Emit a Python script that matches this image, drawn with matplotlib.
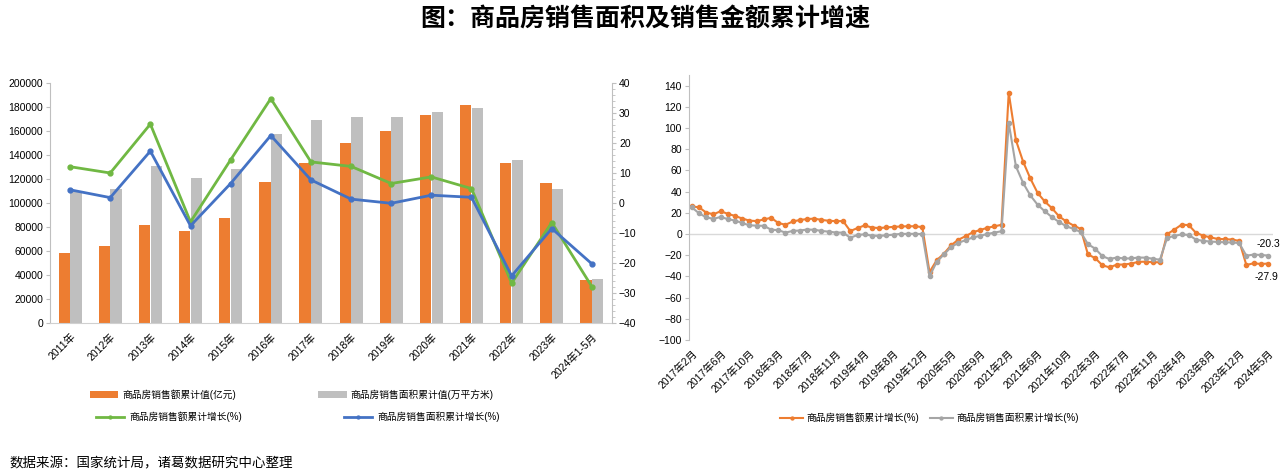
import numpy as np
import matplotlib
matplotlib.use('Agg')
import matplotlib.pyplot as plt
from matplotlib.ticker import MultipleLocator

plt.rcParams['font.family'] = ['Liberation Sans', 'Noto Sans CJK SC']
plt.rcParams['axes.unicode_minus'] = True

# 年度数据（左图）
years = ['2011年', '2012年', '2013年', '2014年', '2015年', '2016年', '2017年',
         '2018年', '2019年', '2020年', '2021年', '2022年', '2023年', '2024年1-5月']
sales_amount = [58589, 64456, 81428, 76292, 87281, 117627, 133701,
                149973, 159725, 173613, 181930, 133308, 116622, 35522]   # 亿元
sales_area = [109946, 111304, 130551, 120649, 128495, 157349, 169408,
              171654, 171558, 176086, 179433, 135837, 111735, 36642]     # 万平方米
amount_growth = [12.1, 10.0, 26.3, -6.3, 14.4, 34.8, 13.7,
                 12.2, 6.5, 8.7, 4.8, -26.7, -6.5, -27.9]
area_growth = [4.4, 1.8, 17.3, -7.6, 6.5, 22.5, 7.7,
               1.3, -0.1, 2.6, 1.9, -24.3, -8.5, -20.3]

# 月度累计增速（右图），每年从2月起
month_years = [2017, 2018, 2019, 2020, 2021, 2022, 2023, 2024]
last_month = {2024: 5}
amount_monthly = [
    26.1, 25.1, 20.2, 18.6, 21.5, 19.0, 17.0, 14.6, 12.6, 12.2, 13.7,
    15.3, 10.4, 8.7, 11.8, 13.2, 14.1, 14.5, 13.3, 12.5, 12.1, 12.2,
    2.8, 5.6, 8.1, 6.1, 5.6, 6.2, 6.7, 7.1, 7.3, 7.3, 6.5,
    -35.9, -24.7, -18.6, -10.6, -5.4, -2.1, 1.6, 3.7, 5.8, 7.2, 8.7,
    133.4, 88.5, 68.2, 52.4, 38.9, 30.7, 24.4, 16.6, 11.8, 8.0, 4.8,
    -19.3, -22.7, -29.5, -31.5, -28.9, -28.8, -27.9, -26.3, -26.1, -26.6, -26.7,
    -0.1, 4.1, 8.8, 8.4, 1.1, -1.5, -3.2, -4.6, -4.9, -5.2, -6.5,
    -29.3, -27.6, -28.3, -27.9]
area_monthly = [
    25.1, 19.5, 15.7, 14.3, 16.1, 14.0, 12.7, 10.3, 8.2, 7.9, 7.7,
    4.1, 3.6, 1.3, 2.9, 3.3, 4.2, 4.0, 2.9, 2.2, 1.4, 1.3,
    -3.6, -0.9, -0.3, -1.6, -1.8, -1.3, -0.6, 0.1, 0.1, 0.2, -0.1,
    -39.9, -26.3, -19.3, -12.3, -8.4, -5.8, -3.3, -1.8, 0.0, 1.3, 2.6,
    104.9, 63.8, 48.1, 36.4, 27.7, 21.5, 15.9, 11.3, 7.3, 4.8, 1.9,
    -9.6, -13.8, -20.9, -23.6, -22.2, -23.1, -23.0, -22.2, -22.3, -23.3, -24.3,
    -3.6, -1.8, -0.4, -0.9, -5.3, -6.5, -7.1, -7.5, -7.8, -8.0, -8.5,
    -20.5, -19.4, -19.8, -20.3]

month_labels = []
for y in month_years:
    for m in range(2, last_month.get(y, 12) + 1):
        month_labels.append(f'{y}年{m}月')

ORANGE = '#ED7D31'
GREY_BAR = '#BFBFBF'
GREY_LINE = '#A5A5A5'
GREEN = '#70B843'
BLUE = '#4472C4'
AXIS = '#BFBFBF'

W, H = 1287, 474
fig = plt.figure(figsize=(W / 100, H / 100), dpi=100)

fig.text(0.501, 1 - 20 / H, '图：商品房销售面积及销售金额累计增速', ha='center', va='center',
         fontsize=18, fontweight='semibold', family=['Noto Sans CJK SC'])
fig.text(10 / W, 1 - 463 / H, '数据来源：国家统计局，诸葛数据研究中心整理', va='center',
         fontsize=9.7, family=['Noto Sans CJK SC'])

# ---- 左图 ----
ax1 = fig.add_axes([50 / W, 1 - 323 / H, 562 / W, 240 / H])
ax2 = ax1.twinx()
x = np.arange(len(years))
b1 = ax1.bar(x - 0.145, sales_amount, 0.28, color=ORANGE, label='商品房销售额累计值(亿元)')
b2 = ax1.bar(x + 0.145, sales_area, 0.28, color=GREY_BAR, label='商品房销售面积累计值(万平方米)')
l1, = ax2.plot(x, amount_growth, color=GREEN, lw=2, marker='o', ms=3.5, label='商品房销售额累计增长(%)')
l2, = ax2.plot(x, area_growth, color=BLUE, lw=2, marker='o', ms=3.5, label='商品房销售面积累计增长(%)')

ax1.set_xlim(-0.5, len(years) - 0.5)
ax1.set_ylim(0, 200000)
ax1.yaxis.set_major_locator(MultipleLocator(20000))
ax2.set_ylim(-40, 40)
ax2.yaxis.set_major_locator(MultipleLocator(10))
ax2.yaxis.set_minor_locator(MultipleLocator(2))

ax1.set_xticks(x)
ax1.set_xticklabels(years, rotation=45, ha='right', rotation_mode='anchor', fontsize=7.5)
ax1.tick_params(axis='x', length=0, pad=6)
ax1.tick_params(axis='y', labelsize=7.5, length=3, color=AXIS, pad=2)
ax2.tick_params(axis='y', labelsize=7.5, length=3, color=AXIS, pad=2)
ax2.tick_params(axis='y', which='minor', length=2, color=AXIS)
for s in ['top', 'right']:
    ax1.spines[s].set_visible(False)
for s in ['top', 'left', 'bottom']:
    ax2.spines[s].set_visible(False)
ax1.spines['left'].set_color(AXIS)
ax1.spines['bottom'].set_color('#D0D0D0')
ax2.spines['right'].set_color(AXIS)

fig.legend(handles=[b1, b2], loc='center left', bbox_to_anchor=(90 / W, 1 - 395 / H), ncol=2,
           frameon=False, fontsize=7, handlelength=2.9, handleheight=0.7, handletextpad=0.4,
           columnspacing=8.5, borderaxespad=0, borderpad=0)
fig.legend(handles=[l1, l2], loc='center left', bbox_to_anchor=(96 / W, 1 - 417 / H), ncol=2,
           frameon=False, fontsize=7, handlelength=2.9, handletextpad=0.5,
           columnspacing=10.5, borderaxespad=0, borderpad=0, markerscale=0.6)

# ---- 右图 ----
ax3 = fig.add_axes([689 / W, 1 - 340 / H, 584 / W, 265 / H])
idx = np.arange(len(month_labels))
ax3.axhline(0, color='#D9D9D9', lw=1, zorder=0)
r1, = ax3.plot(idx, amount_monthly, color=ORANGE, lw=1.5, marker='o', ms=3, label='商品房销售额累计增长(%)')
r2, = ax3.plot(idx, area_monthly, color=GREY_LINE, lw=1.5, marker='o', ms=3, label='商品房销售面积累计增长(%)')
ax3.set_xlim(-0.4, len(month_labels) - 0.3)
ax3.set_ylim(-100, 150)
ax3.set_yticks(np.arange(-100, 141, 20))
ax3.set_xticks(idx[::4])
ax3.set_xticklabels(month_labels[::4], rotation=45, ha='right', rotation_mode='anchor', fontsize=7.5)
ax3.tick_params(axis='x', length=0, pad=6)
ax3.tick_params(axis='y', labelsize=7.5, length=3, color=AXIS, pad=2)
for s in ['top', 'right', 'bottom']:
    ax3.spines[s].set_visible(False)
ax3.spines['left'].set_color(AXIS)

ax3.annotate(f'{area_monthly[-1]:.1f}', (idx[-1], area_monthly[-1]), xytext=(0, 8.5),
             textcoords='offset points', ha='center', va='center', fontsize=7.5)
ax3.annotate(f'{amount_monthly[-1]:.1f}', (idx[-1], amount_monthly[-1]), xytext=(-1, -10),
             textcoords='offset points', ha='center', va='center', fontsize=7.5)

fig.legend(handles=[r1, r2], loc='center left', bbox_to_anchor=(780 / W, 1 - 418 / H), ncol=2,
           frameon=False, fontsize=7, handlelength=2.4, handletextpad=0.3,
           columnspacing=1.1, borderaxespad=0, borderpad=0, markerscale=0.7)

fig.savefig('out.png', dpi=100)
